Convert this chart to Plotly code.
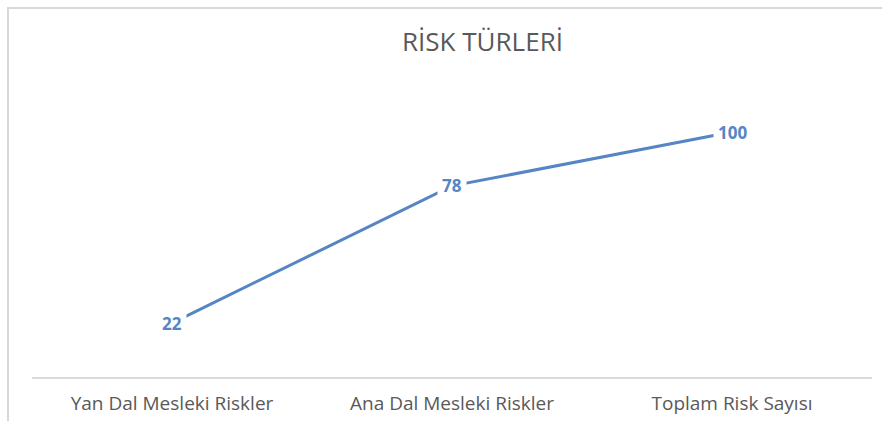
import plotly.graph_objects as go

categories = ["Yan Dal Mesleki Riskler", "Ana Dal Mesleki Riskler", "Toplam Risk Sayısı"]
values = [22, 78, 100]
title_text = "RİSK TÜRLERİ"

line_color = "#5585c5"
font_family = "Open Sans"

W, H = 882, 421
L, R, T, B = 32, 10, 83, 44

fig = go.Figure()
fig.add_trace(go.Scatter(
    x=categories, y=values, mode="lines",
    line=dict(color=line_color, width=3),
    hoverinfo="skip", showlegend=False,
))

for c, v in zip(categories, values):
    fig.add_annotation(
        x=c, y=v, text=f"<b>{v}</b>", showarrow=False,
        font=dict(family=font_family, size=17, color=line_color),
        bgcolor="white", xanchor="center", yanchor="middle",
        borderpad=4,
    )

pw = W - L - R
ph = H - T - B

fig.update_layout(
    width=W, height=H,
    margin=dict(l=L, r=R, t=T, b=B, autoexpand=False),
    paper_bgcolor="white", plot_bgcolor="white",
    title=dict(text=title_text, x=482.5 / W, xanchor="center", y=1 - 42 / H, yanchor="middle",
               font=dict(family=font_family, size=26, color="#595959")),
    xaxis=dict(
        type="category", showgrid=False, zeroline=False,
        showline=True, linecolor="#d9d9d9", linewidth=1.5,
        ticks="outside", ticklen=8, tickcolor="rgba(0,0,0,0)",
        tickfont=dict(family=font_family, size=19, color="#595959"),
        range=[-0.5, 2.5],
    ),
    yaxis=dict(range=[0, 120], visible=False, showgrid=False, zeroline=False),
    shapes=[dict(type="rect", xref="paper", yref="paper",
                 x0=(8 - L) / pw, x1=(W + 20 - L) / pw,
                 y0=-(H + 20 - (H - B)) / ph, y1=((H - B) - 8) / ph,
                 line=dict(color="#d9d9d9", width=2), layer="below")],
)

fig.write_html("out.html", config={"displayModeBar": False},
               post_script="document.body.style.margin='0';document.body.style.padding='0';")
